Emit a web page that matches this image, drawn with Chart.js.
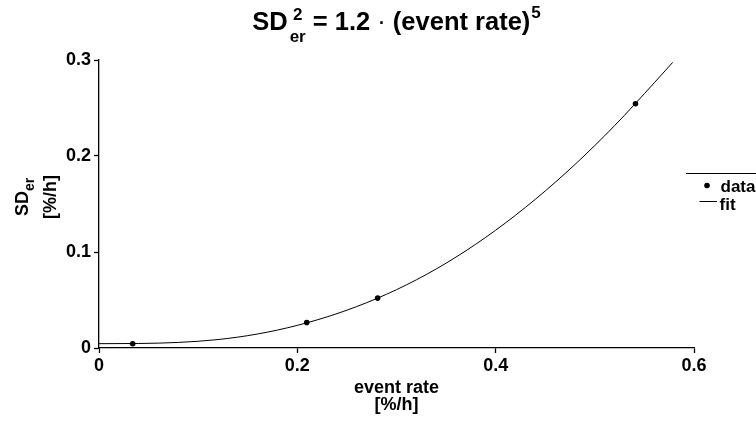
<!DOCTYPE html>
<html>
<head>
<meta charset="utf-8">
<script src="https://cdn.jsdelivr.net/npm/chart.js@4.4.1/dist/chart.umd.min.js"></script>
<style>
  html, body { margin: 0; padding: 0; background: #fff; }
  #wrap { width: 756px; height: 423px; }
</style>
</head>
<body>
<div id="wrap"><canvas id="c" width="756" height="423"></canvas></div>
<script>
// ---- data ----
const dataX = [0.034, 0.2095, 0.281, 0.541];
const dataY = [0.0045, 0.0266, 0.052, 0.2545];

const fitX = [0, 0.04, 0.08, 0.12, 0.16, 0.20, 0.24, 0.28, 0.32, 0.36, 0.40, 0.44, 0.48, 0.52, 0.56, 0.5785];
const fitY = [0.0045, 0.0047, 0.0058, 0.0088, 0.0146, 0.0236, 0.0358, 0.0515, 0.071, 0.0947, 0.1227, 0.1549, 0.1912, 0.2317, 0.2763, 0.2975];

const xTicks = [0, 0.2, 0.4, 0.6];
const xTickLabels = ['0', '0.2', '0.4', '0.6'];
const yTicks = [0, 0.1, 0.2, 0.3];
const yTickLabels = ['0', '0.1', '0.2', '0.3'];

const legendLabels = ['data', 'fit'];
const FONT = '"Liberation Sans", Arial, sans-serif';

const toPts = (xs, ys) => xs.map((x, i) => ({ x: x, y: ys[i] }));

const textPlugin = {
  id: 'texts',
  afterDraw(chart) {
    const ctx = chart.ctx;
    const area = chart.chartArea;
    ctx.save();
    ctx.fillStyle = '#000';
    ctx.textBaseline = 'alphabetic';

    // ---- title: SD^2_er = 1.2 · (event rate)^5 ----
    const big = 'bold 25.5px ' + FONT;
    const small = 'bold 17px ' + FONT;
    ctx.font = big;
    const wSD = ctx.measureText('SD').width;
    const wMid = ctx.measureText(' = 1.2 ').width;
    ctx.font = '25.5px ' + FONT;
    const wDot = ctx.measureText('·').width;
    ctx.font = big;
    const wRest = ctx.measureText(' (event rate)').width;
    ctx.font = small;
    const wStack = Math.max(ctx.measureText('2').width, ctx.measureText('er').width);
    const w5 = ctx.measureText('5').width;
    const total = wSD + 2 + wStack + wMid + wDot + wRest + 1 + w5;
    let x = (area.left + area.right) / 2 - total / 2;
    const base = 30;
    ctx.textAlign = 'left';
    ctx.font = big; ctx.fillText('SD', x, base); x += wSD + 2;
    ctx.font = small;
    ctx.fillText('2', x + (wStack - ctx.measureText('2').width) / 2, base - 10);
    ctx.fillText('er', x, base + 12);
    x += wStack;
    ctx.font = big; ctx.fillText(' = 1.2 ', x, base); x += wMid;
    ctx.font = '25.5px ' + FONT; ctx.fillText('·', x, base); x += wDot;
    ctx.font = big; ctx.fillText(' (event rate)', x, base); x += wRest + 1;
    ctx.font = small; ctx.fillText('5', x, base - 12);

    // ---- x axis title ----
    ctx.textAlign = 'center';
    ctx.font = 'bold 18px ' + FONT;
    const cx = (area.left + area.right) / 2;
    ctx.fillText('event rate', cx, 393);
    ctx.fillText('[%/h]', cx, 410);

    // ---- y axis title (rotated) ----
    const cy = 197;
    ctx.save();
    ctx.translate(28, cy);
    ctx.rotate(-Math.PI / 2);
    ctx.font = 'bold 18px ' + FONT;
    const wS = ctx.measureText('SD').width;
    ctx.font = 'bold 14px ' + FONT;
    const wE = ctx.measureText('er').width;
    let sx = -(wS + wE) / 2;
    ctx.textAlign = 'left';
    ctx.font = 'bold 18px ' + FONT;
    ctx.fillText('SD', sx, 0);
    ctx.font = 'bold 14px ' + FONT;
    ctx.fillText('er', sx + wS, 6);
    ctx.restore();
    ctx.save();
    ctx.translate(56, cy);
    ctx.rotate(-Math.PI / 2);
    ctx.textAlign = 'center';
    ctx.font = 'bold 18px ' + FONT;
    ctx.fillText('[%/h]', 0, 0);
    ctx.restore();

    // ---- legend ----
    ctx.strokeStyle = '#000';
    ctx.lineWidth = 1;
    ctx.beginPath();
    ctx.moveTo(686, 173.5);
    ctx.lineTo(756, 173.5);
    ctx.stroke();
    ctx.beginPath();
    ctx.arc(707, 185.5, 2.8, 0, Math.PI * 2);
    ctx.fill();
    ctx.font = 'bold 17px ' + FONT;
    ctx.textAlign = 'left';
    ctx.fillText(legendLabels[0], 720.5, 191.5);
    ctx.beginPath();
    ctx.moveTo(699.5, 201.5);
    ctx.lineTo(717, 201.5);
    ctx.stroke();
    ctx.fillText(legendLabels[1], 719.5, 209.5);

    ctx.restore();
  }
};

new Chart(document.getElementById('c'), {
  type: 'scatter',
  data: {
    datasets: [
      {
        label: legendLabels[1],
        data: toPts(fitX, fitY),
        showLine: true,
        borderColor: '#000',
        borderWidth: 1,
        pointRadius: 0,
        cubicInterpolationMode: 'monotone',
        fill: false,
        order: 2
      },
      {
        label: legendLabels[0],
        data: toPts(dataX, dataY),
        showLine: false,
        pointRadius: 2.8,
        pointBackgroundColor: '#000',
        pointBorderColor: '#000',
        pointBorderWidth: 0,
        order: 1
      }
    ]
  },
  options: {
    responsive: false,
    animation: false,
    events: [],
    layout: { autoPadding: false, padding: { left: 0, right: 62, top: 60, bottom: 0 } },
    plugins: { legend: { display: false }, title: { display: false }, tooltip: { enabled: false } },
    scales: {
      x: {
        type: 'linear',
        min: 0, max: 0.6,
        afterBuildTicks(s) { s.ticks = xTicks.map(v => ({ value: v })); },
        afterFit(s) { s.height = 75; },
        border: { display: true, color: '#000', width: 1.3 },
        grid: { display: true, drawOnChartArea: false, drawTicks: true, tickLength: 5, tickColor: '#000', tickWidth: 1.3 },
        ticks: {
          color: '#000',
          padding: 2,
          maxRotation: 0,
          autoSkip: false,
          font: { family: FONT, size: 18, weight: 'bold' },
          callback(v) { const i = xTicks.indexOf(+v.toFixed(2)); return i >= 0 ? xTickLabels[i] : ''; }
        }
      },
      y: {
        type: 'linear',
        min: 0, max: 0.3,
        afterBuildTicks(s) { s.ticks = yTicks.map(v => ({ value: v })); },
        afterFit(s) { s.width = 99; },
        border: { display: true, color: '#000', width: 1.3 },
        grid: { display: true, drawOnChartArea: false, drawTicks: true, tickLength: 5, tickColor: '#000', tickWidth: 1.3 },
        ticks: {
          color: '#000',
          padding: 3,
          autoSkip: false,
          font: { family: FONT, size: 18, weight: 'bold' },
          callback(v) { const i = yTicks.indexOf(+v.toFixed(2)); return i >= 0 ? yTickLabels[i] : ''; }
        }
      }
    }
  },
  plugins: [textPlugin]
});
</script>
</body>
</html>
